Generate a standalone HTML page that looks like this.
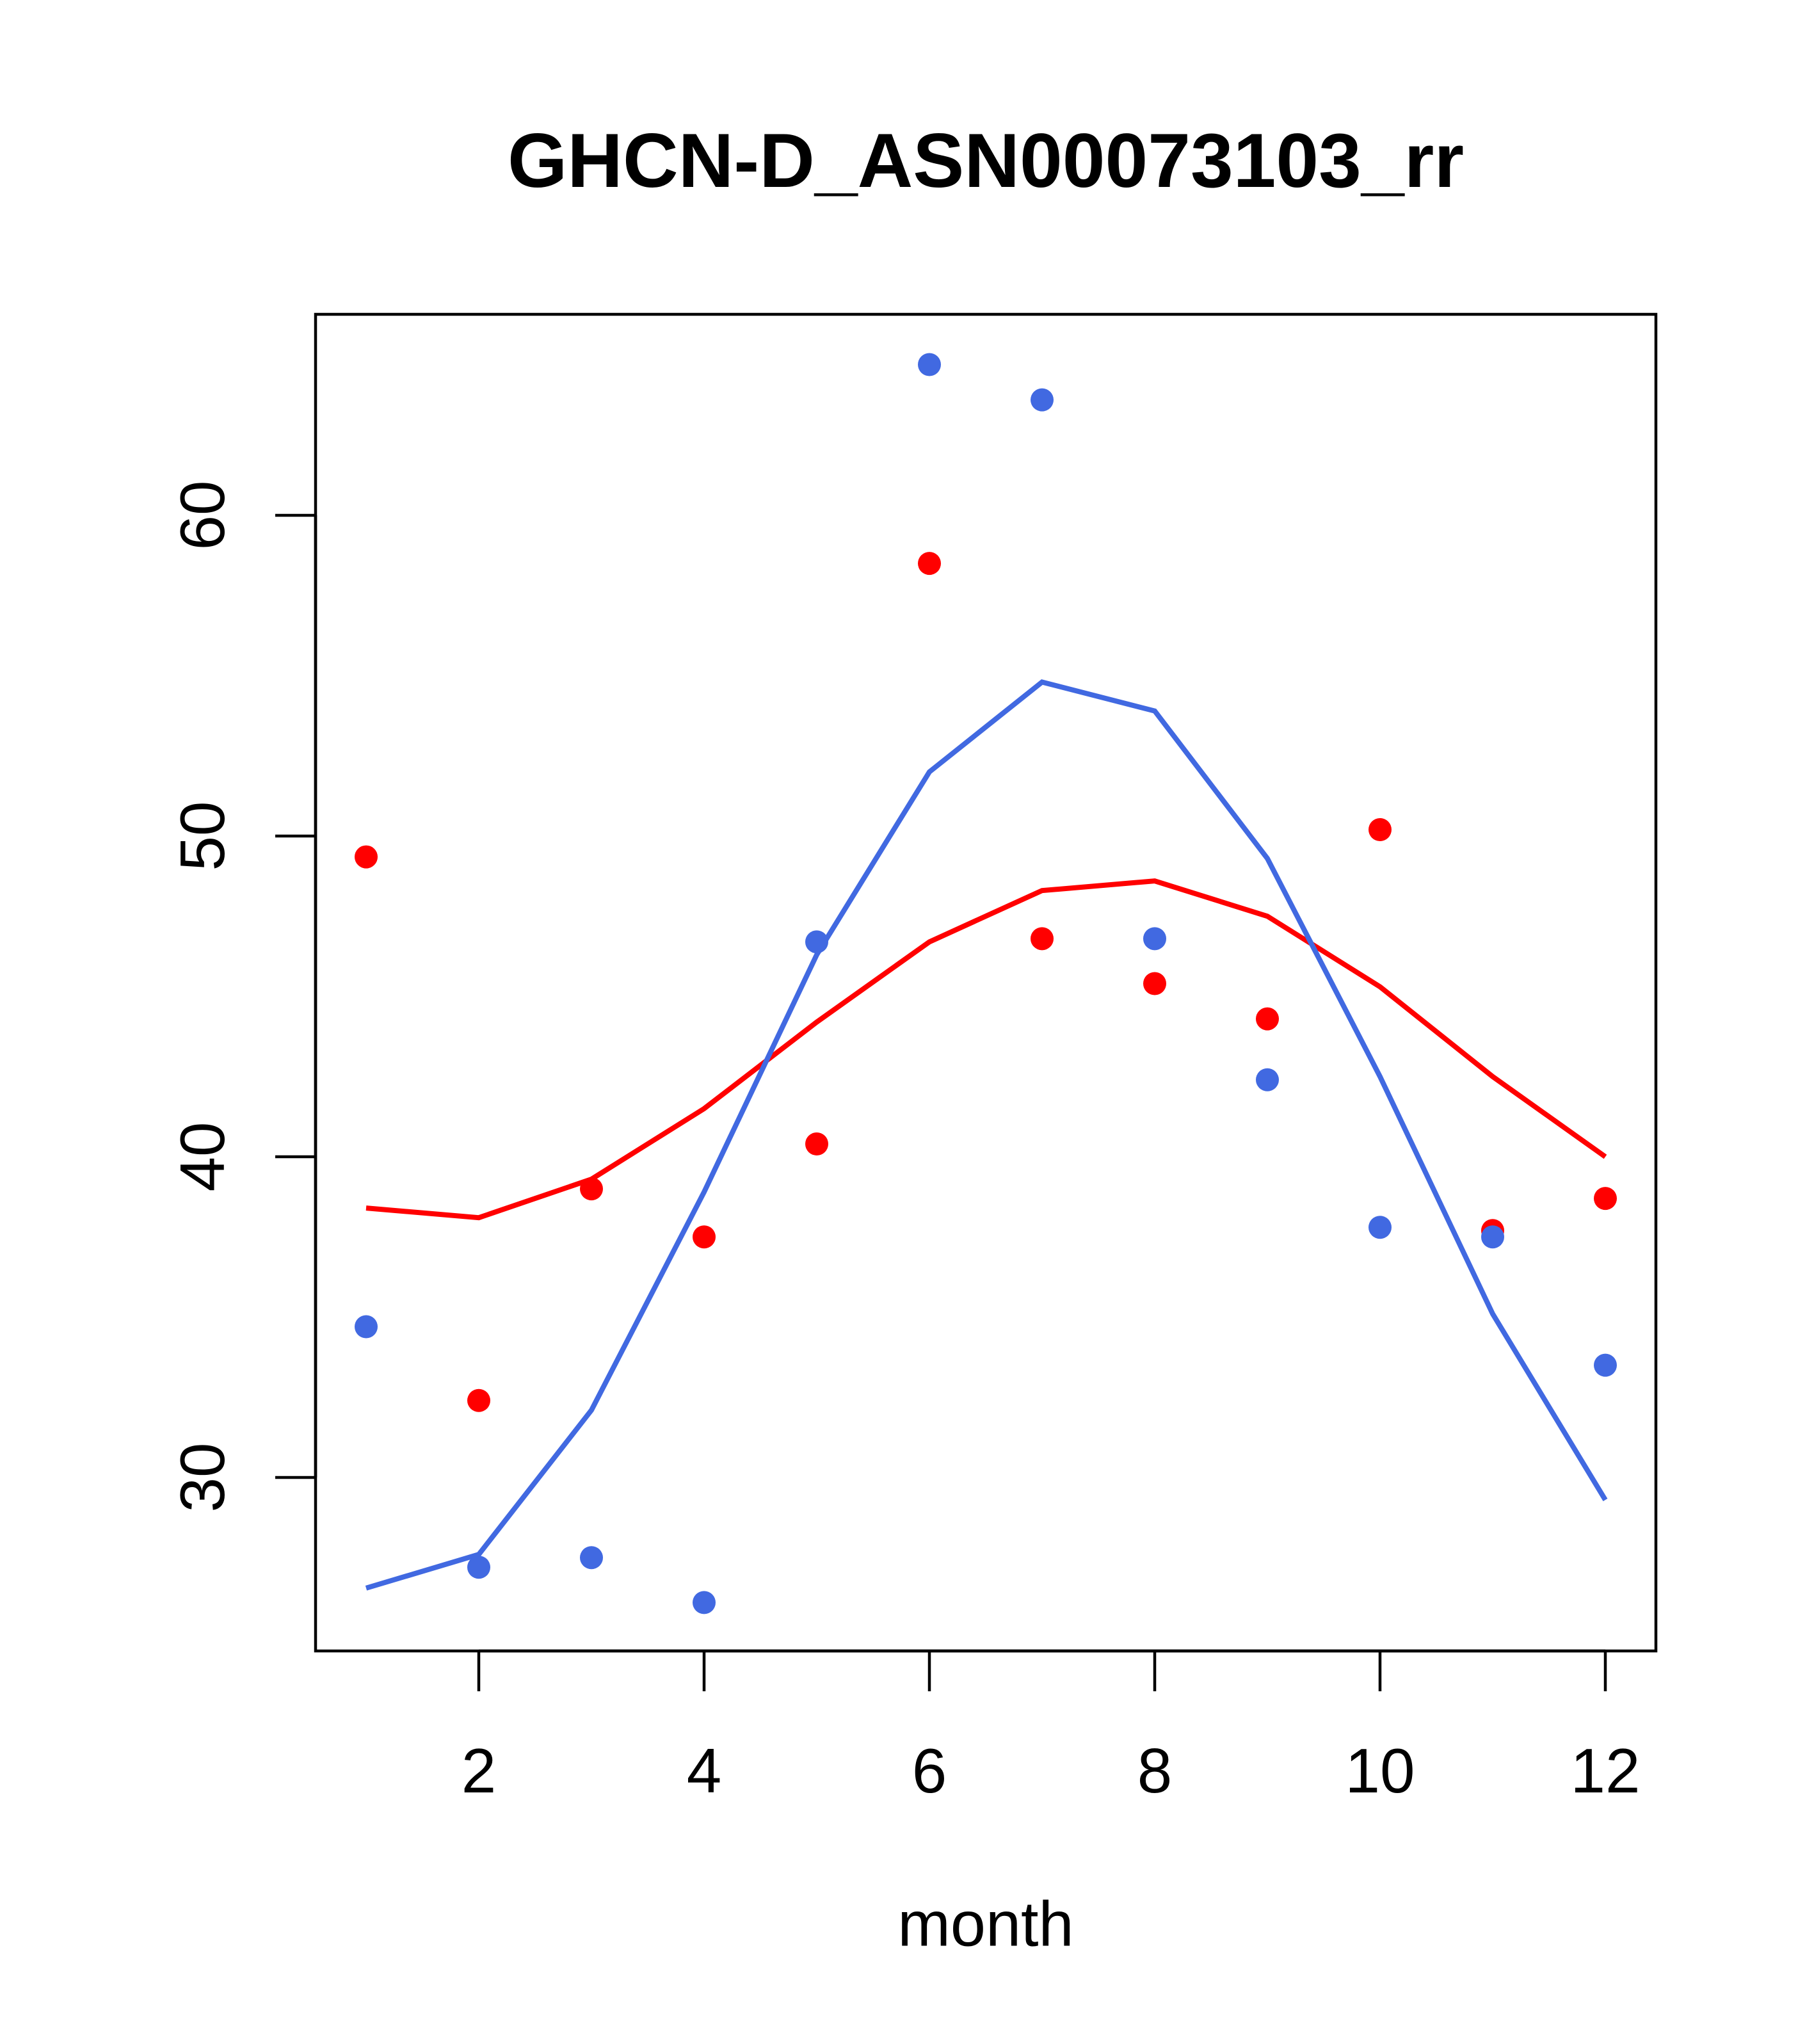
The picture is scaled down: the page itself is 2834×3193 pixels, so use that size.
<!DOCTYPE html>
<html><head><meta charset="utf-8"><style>html,body{margin:0;padding:0;background:#fff}</style></head>
<body>
<svg id="chart" width="2834" height="3188" xmlns="http://www.w3.org/2000/svg" font-family="Liberation Sans, sans-serif">
<rect width="2834" height="3188" fill="#fff"/>
<text x="1540" y="251" font-size="120" font-weight="bold" text-anchor="middle" dominant-baseline="central">GHCN-D_ASN00073103_rr</text>
<rect x="493" y="491" width="2094" height="2088" fill="none" stroke="#000" stroke-width="4.5"/>
<text x="1540" y="3005" font-size="99" text-anchor="middle" dominant-baseline="central">month</text>
<g id="xaxis"></g>
<g id="yaxis"></g>
<g id="series"></g>
</svg>
<script>
const months=[1,2,3,4,5,6,7,8,9,10,11,12];
const xTicks=[2,4,6,8,10,12];
const yTicks=[30,40,50,60];
const redPoints=[49.35,32.4,39.0,37.5,40.4,58.5,46.8,45.4,44.3,50.2,37.7,38.7];
const bluePoints=[34.7,27.2,27.5,26.1,46.7,64.7,63.6,46.8,42.4,37.8,37.5,33.5];
const redLine=[38.4,38.1,39.3,41.5,44.2,46.7,48.3,48.6,47.5,45.3,42.5,40.0];
const blueLine=[26.55,27.6,32.1,38.9,46.3,52.0,54.8,53.9,49.3,42.5,35.1,29.3];
const NS="http://www.w3.org/2000/svg";
const xs=m=>748+(m-2)*176;
const ys=v=>805+(60-v)*50.1;
function mk(tag,attrs,parent){const e=document.createElementNS(NS,tag);for(const k in attrs)e.setAttribute(k,attrs[k]);parent.appendChild(e);return e;}
const xa=document.getElementById('xaxis'),ya=document.getElementById('yaxis'),sg=document.getElementById('series');
mk('line',{x1:xs(2),x2:xs(12),y1:2579,y2:2579,stroke:'#000','stroke-width':4.5},xa);
xTicks.forEach(t=>{
 const l=mk('line',{x1:xs(t),x2:xs(t),y1:2579,y2:2642,stroke:'#000','stroke-width':4.5},xa);
 
 
 const tx=mk('text',{x:xs(t),y:2766,'font-size':98,'text-anchor':'middle','dominant-baseline':'central'},xa);
 tx.textContent=t;
 
 
});
mk('line',{x1:493,x2:493,y1:ys(30),y2:ys(60),stroke:'#000','stroke-width':4.5},ya);
yTicks.forEach(t=>{
 const l=mk('line',{x1:430,x2:493,y1:ys(t),y2:ys(t),stroke:'#000','stroke-width':4.5},ya);
 
 
 const tx=mk('text',{x:316,y:ys(t),'font-size':98,'text-anchor':'middle','dominant-baseline':'central',transform:`rotate(-90 316 ${ys(t)})`},ya);
 tx.textContent=t;
 
 
});
function line(vals,col,name){
 const p=mk('polyline',{points:vals.map((v,i)=>xs(months[i])+','+ys(v)).join(' '),fill:'none',stroke:col,'stroke-width':8},sg);
 
 
}
function pts(vals,col,name){
 vals.forEach((v,i)=>{
  const c=mk('circle',{cx:xs(months[i]),cy:ys(v),r:18,fill:col},sg);
  
  
 });
}
line(redLine,'#ff0000','red-line');
line(blueLine,'#4169e1','blue-line');
pts(redPoints,'#ff0000','red-point');
pts(bluePoints,'#4169e1','blue-point');
</script>
</body></html>
